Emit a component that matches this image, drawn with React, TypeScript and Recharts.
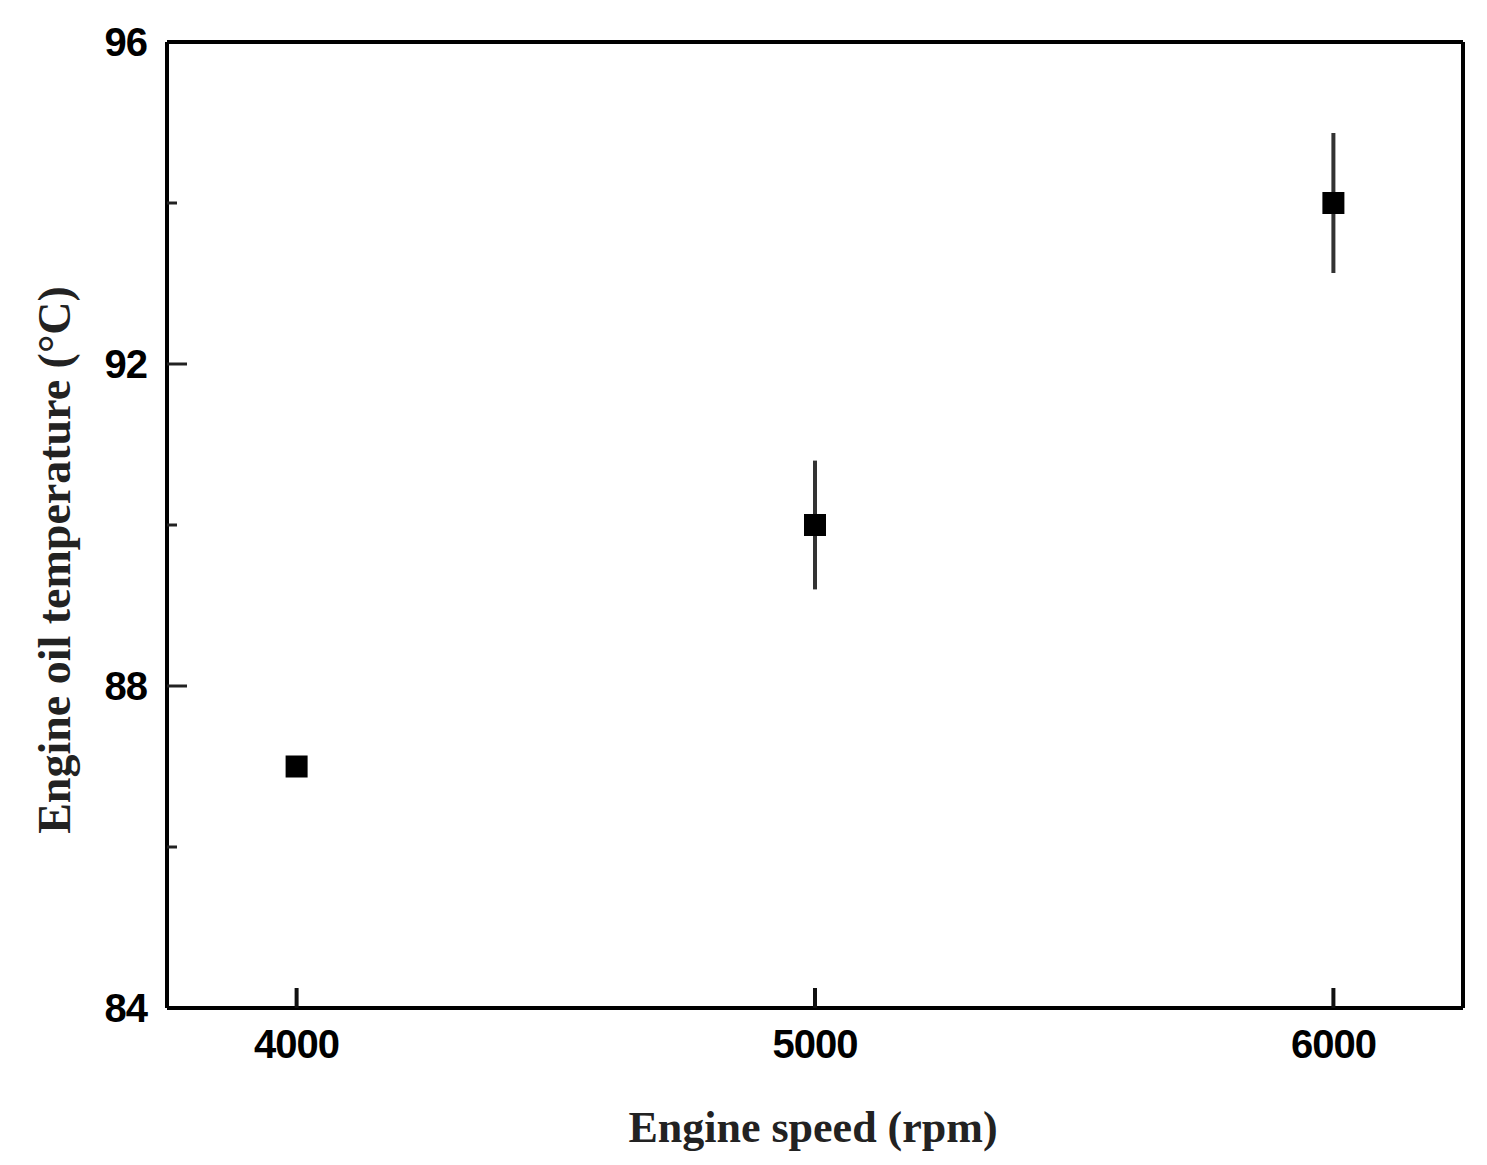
import { ScatterChart, Scatter, XAxis, YAxis, ErrorBar, ReferenceLine, Label } from "recharts";

const speeds = [4000, 5000, 6000];
const oilTemp = [87.0, 90.0, 94.0];
const tempErr = [0, 0.8, 0.87];
const xTicks = [4000, 5000, 6000];
const yTicks = [84, 86, 88, 90, 92, 94, 96];
const yLabelled = [84, 88, 92, 96];

const data = speeds.map((s, i) => ({ speed: s, temp: oilTemp[i], err: tempErr[i] }));

const tickFont = { fontFamily: "'Liberation Sans', Arial, sans-serif", fontWeight: 700, fontSize: 40, fill: "#000" };
const titleFont = { fontFamily: "'Liberation Serif', 'Times New Roman', serif", fontWeight: 700, fontSize: 44, fill: "#222" };

const XTick = ({ x, y, payload }: any) => (
  <g>
    <line x1={x} x2={x} y1={y - 20} y2={y - 40} stroke="#111" strokeWidth={4} />
    <text x={x} y={y} dy={30} textAnchor="middle" {...tickFont} letterSpacing={-1}>
      {payload.value}
    </text>
  </g>
);

const YTick = ({ x, y, payload }: any) => {
  const major = yLabelled.includes(payload.value);
  const showLine = payload.value !== 84 && payload.value !== 96;
  return (
    <g>
      {showLine && (
        <line x1={x + 20} x2={x + 20 + (major ? 20 : 10)} y1={y} y2={y} stroke="#222" strokeWidth={3} />
      )}
      {major && (
        <text x={x} y={y} dy={14} textAnchor="end" {...tickFont} letterSpacing={-1}>
          {payload.value}
        </text>
      )}
    </g>
  );
};

const Square = ({ cx, cy }: any) => <rect x={cx - 11} y={cy - 11} width={22} height={22} fill="#000" />;

export default function App() {
  return (
    <ScatterChart width={1479} height={1157} margin={{ top: 34, right: 24, left: 0, bottom: 0 }}>
      <XAxis
        type="number"
        dataKey="speed"
        domain={[3750, 6250]}
        ticks={xTicks}
        height={157}
        tickSize={0}
        tickMargin={20}
        tickLine={false}
        tick={<XTick />}
        axisLine={{ stroke: "#000", strokeWidth: 4 }}
      >
        <Label
          content={() => (
            <text x={805} y={1134} textAnchor="middle" {...titleFont}>
              Engine speed (rpm)
            </text>
          )}
        />
      </XAxis>
      <YAxis
        type="number"
        dataKey="temp"
        domain={[84, 96]}
        ticks={yTicks}
        width={159}
        tickSize={0}
        tickMargin={20}
        tickLine={false}
        tick={<YTick />}
        axisLine={{ stroke: "#000", strokeWidth: 4 }}
      >
        <Label
          content={() => (
            <text x={62} y={552} textAnchor="middle" transform="rotate(-90 62 552)" {...titleFont} fontSize={46}>
              Engine oil temperature (°C)
            </text>
          )}
        />
      </YAxis>
      <ReferenceLine y={96} stroke="#000" strokeWidth={4} />
      <ReferenceLine x={6250} stroke="#000" strokeWidth={4} />
      <Scatter data={data} shape={<Square />} isAnimationActive={false}>
        <ErrorBar dataKey="err" direction="y" width={0} stroke="#333" strokeWidth={4} />
      </Scatter>
    </ScatterChart>
  );
}
